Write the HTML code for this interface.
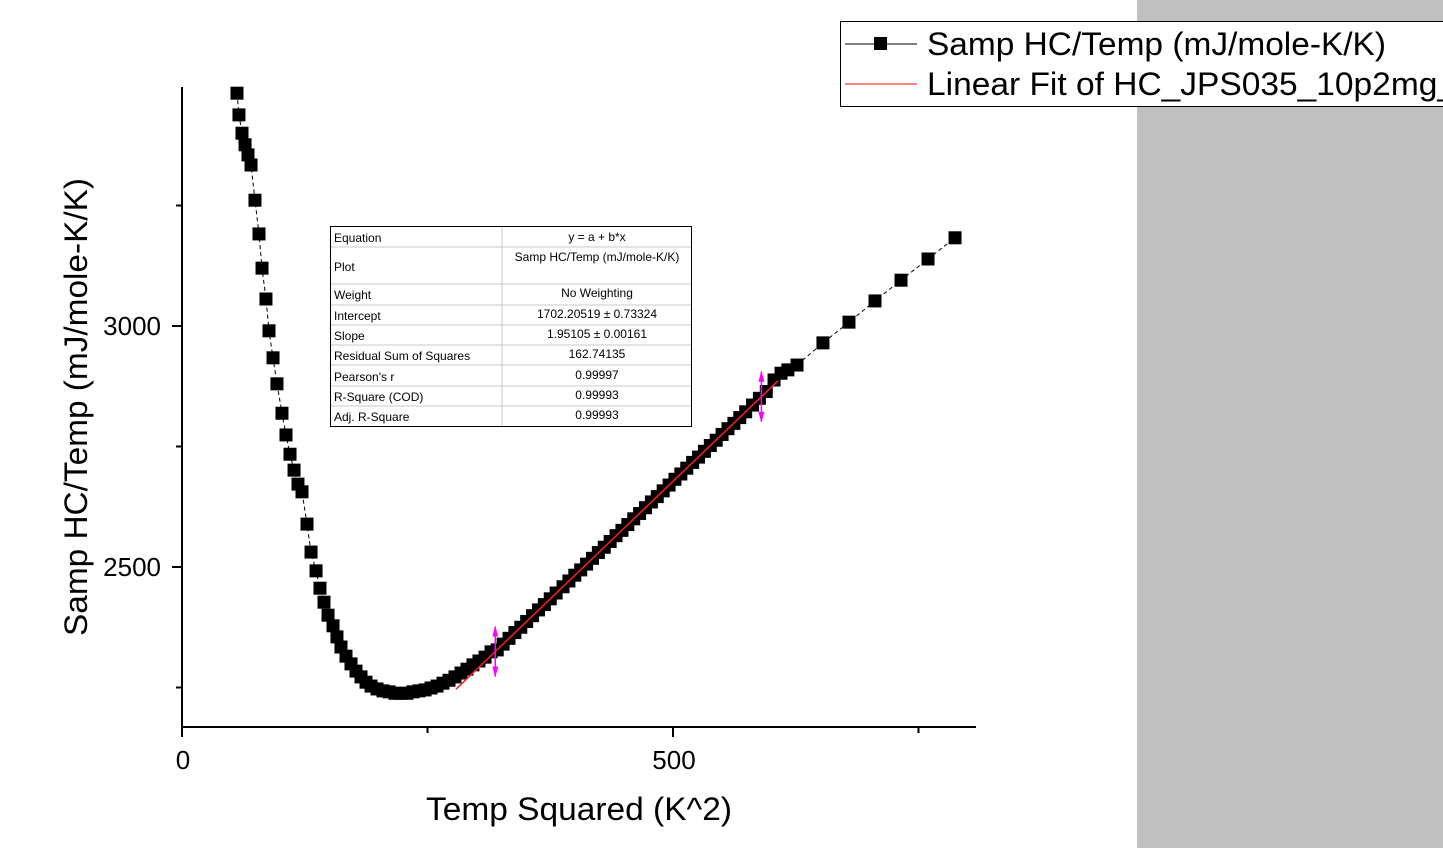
<!DOCTYPE html>
<html><head><meta charset="utf-8"><style>
body{margin:0;width:1443px;height:848px;overflow:hidden;background:#fff;font-family:"Liberation Sans",Arial,sans-serif}
svg{position:absolute;left:0;top:0}
</style></head><body>
<svg id="chart" width="1443" height="848" xmlns="http://www.w3.org/2000/svg" font-family="Liberation Sans, Arial, sans-serif">
<rect x="1137" y="0" width="306" height="848" fill="#c0c0c0"/>
<g id="plot"></g>
<g id="axes"></g>
<g font-size="12" fill="#000">
<rect x="330.5" y="226.5" width="361" height="200" fill="#fff" stroke="#000"/>
<line x1="502" y1="227" x2="502" y2="426" stroke="#c8c8c8"/>
<g stroke="#c8c8c8"><line x1="331" y1="247" x2="691" y2="247"/><line x1="331" y1="284" x2="691" y2="284"/><line x1="331" y1="305" x2="691" y2="305"/><line x1="331" y1="325" x2="691" y2="325"/><line x1="331" y1="345" x2="691" y2="345"/><line x1="331" y1="365" x2="691" y2="365"/><line x1="331" y1="386" x2="691" y2="386"/><line x1="331" y1="406" x2="691" y2="406"/></g>
<text x="334" y="242">Equation</text><text x="334" y="271">Plot</text><text x="334" y="299">Weight</text><text x="334" y="320">Intercept</text><text x="334" y="340">Slope</text><text x="334" y="360">Residual Sum of Squares</text><text x="334" y="381">Pearson's r</text><text x="334" y="401">R-Square (COD)</text><text x="334" y="421">Adj. R-Square</text>
<g text-anchor="middle"><text x="597" y="241">y = a + b*x</text><text x="597" y="261">Samp HC/Temp (mJ/mole-K/K)</text><text x="597" y="297">No Weighting</text><text x="597" y="318">1702.20519 ± 0.73324</text><text x="597" y="338">1.95105 ± 0.00161</text><text x="597" y="358">162.74135</text><text x="597" y="379">0.99997</text><text x="597" y="399">0.99993</text><text x="597" y="419">0.99993</text></g>
</g>
<g>
<rect x="840.5" y="21.5" width="610" height="85" fill="#fff" stroke="#000"/>
<line x1="845" y1="44" x2="917" y2="44" stroke="#000"/><rect x="874" y="37" width="13" height="13" fill="#000"/>
<text x="927" y="55" font-size="32" textLength="459" lengthAdjust="spacingAndGlyphs">Samp HC/Temp (mJ/mole-K/K)</text>
<line x1="845" y1="84" x2="917" y2="84" stroke="#ff0000"/>
<text x="927" y="95" font-size="32" textLength="529" lengthAdjust="spacingAndGlyphs">Linear Fit of HC_JPS035_10p2mg_</text>
</g>
</svg>
<script>
const xs=[56.0,58.0,61.1,64.2,67.2,70.3,74.3,78.4,81.5,85.5,88.6,92.7,96.7,101.8,105.9,110.0,114.1,118.1,122.2,127.3,131.4,136.5,140.5,144.6,148.7,153.8,157.8,161.9,167.0,172.1,177.2,182.3,187.4,192.5,198.6,204.7,210.8,216.9,223.0,229.1,235.2,241.3,247.5,253.6,259.7,265.8,271.9,278.0,284.1,290.2,296.3,302.4,308.6,314.7,321,327,333,339,345,351,357,363,369,375,381,388,394,400,406,412,418,424,430,436,442,448,454,460,466,472,478,484,490,496,502,508,514,520,526,532,538,544,550,556,562,568,574,581,588,595,602.9,610,617,626.3,652.7,679.2,705.7,732.2,759.7,787.2];
const ys=[3483,3438,3400,3376,3355,3334,3261,3191,3120,3056,2990,2934,2880,2819,2774,2734,2701,2672,2656,2589,2531,2492,2456,2427,2400,2378,2355,2334,2315,2299,2284,2272,2261,2253,2247,2243,2241,2238,2238,2238,2241,2243,2245,2249,2253,2259,2265,2272,2280,2288,2297,2305,2313,2324,2328,2340,2352,2364,2375,2387,2399,2411,2422,2434,2446,2459,2471,2483,2494,2506,2518,2530,2541,2553,2565,2576,2588,2600,2611,2623,2635,2646,2658,2670,2682,2693,2705,2717,2728,2740,2752,2763,2775,2787,2798,2810,2822,2836,2850,2864,2888,2902,2909,2919,2965,3008,3052,3095,3139,3183];
const fitA=1702.20519, fitB=1.95105;
const fitRange=[279,607];
const arrowXs=[319,590];
const xTicks=[0,500], xMinor=[250,750];
const yTicks=[2500,3000], yMinor=[2250,2750,3250];
const X=v=>182+v*0.982, Y=v=>326-(v-3000)*0.482;
const NS='http://www.w3.org/2000/svg';
function mk(p,t,a){const e=document.createElementNS(NS,t);for(const k in a)e.setAttribute(k,a[k]);p.appendChild(e);return e;}
const plot=document.getElementById('plot'), axes=document.getElementById('axes');
let d='';xs.forEach((x,i)=>{d+=(i?'L':'M')+X(x).toFixed(1)+' '+Y(ys[i]).toFixed(1);});
const ln=mk(plot,'path',{d:d,fill:'none',stroke:'#000','stroke-width':1,'stroke-dasharray':'4 3'});


xs.forEach((x,i)=>{const r=mk(plot,'rect',{x:X(x)-6.5,y:Y(ys[i])-6.5,width:13,height:13,fill:'#000'});

});
const fl=mk(plot,'line',{x1:X(fitRange[0]),y1:Y(fitA+fitB*fitRange[0]),x2:X(fitRange[1]),y2:Y(fitA+fitB*fitRange[1]),stroke:'#ff2020','stroke-width':1.5});


arrowXs.forEach(ax=>{const cx=X(ax),cy=Y(fitA+fitB*ax);const g=mk(plot,'g',{fill:'#ff00ff',stroke:'#ff00ff'});


mk(g,'line',{x1:cx,y1:cy-25,x2:cx,y2:cy+25,'stroke-width':1.5});
mk(g,'polygon',{points:`${cx-3},${cy-15} ${cx+3},${cy-15} ${cx},${cy-26}`,stroke:'none'});
mk(g,'polygon',{points:`${cx-3},${cy+15} ${cx+3},${cy+15} ${cx},${cy+26}`,stroke:'none'});});
mk(axes,'line',{x1:182,y1:87,x2:182,y2:727.5,stroke:'#000','stroke-width':2});
mk(axes,'line',{x1:181,y1:727,x2:976,y2:727,stroke:'#000','stroke-width':2});
xTicks.forEach(v=>{mk(axes,'line',{x1:X(v),y1:727,x2:X(v),y2:737,stroke:'#000','stroke-width':2});
const t=mk(axes,'text',{x:X(v)+1,y:769,'font-size':26,'text-anchor':'middle'});t.textContent=v;

});
xMinor.forEach(v=>mk(axes,'line',{x1:X(v),y1:727,x2:X(v),y2:733,stroke:'#000','stroke-width':2}));
yTicks.forEach(v=>{mk(axes,'line',{x1:172,y1:Y(v),x2:182,y2:Y(v),stroke:'#000','stroke-width':2});
const t=mk(axes,'text',{x:161,y:Y(v)+9,'font-size':26,'text-anchor':'end'});t.textContent=v;

});
yMinor.forEach(v=>mk(axes,'line',{x1:176,y1:Y(v),x2:182,y2:Y(v),stroke:'#000','stroke-width':2}));
const xt=mk(axes,'text',{x:426,y:820,'font-size':32,textLength:306,lengthAdjust:'spacingAndGlyphs'});xt.textContent='Temp Squared (K^2)';


const yt=mk(axes,'text',{x:0,y:0,'font-size':32,textLength:458,lengthAdjust:'spacingAndGlyphs',transform:'translate(87,636) rotate(-90)'});yt.textContent='Samp HC/Temp (mJ/mole-K/K)';


</script>
</body></html>
